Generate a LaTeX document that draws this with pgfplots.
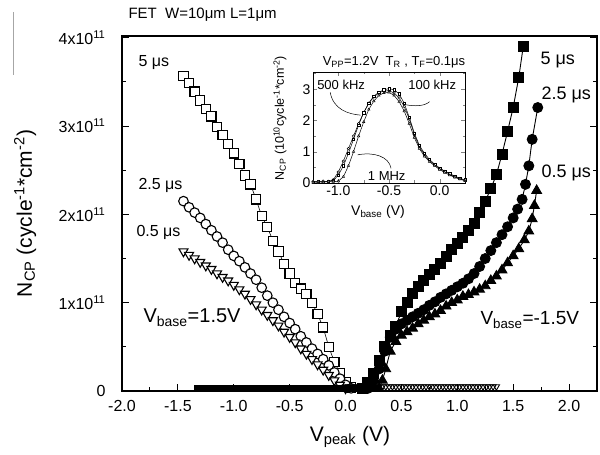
\documentclass[border=0pt]{standalone}
\usepackage{pgfplots}
\pgfplotsset{compat=1.18}
\usepackage{fontspec}
\setmainfont{Liberation Sans}
\setsansfont{Liberation Sans}
\newcommand{\fs}[1]{\fontsize{#1}{#1}\selectfont}

\begin{document}
\begin{tikzpicture}
\useasboundingbox (-122pt,-64pt) rectangle (478pt,391pt);

% main axis
\begin{axis}[
    at={(0pt,0pt)}, anchor=south west,
    width=475pt, height=355pt, scale only axis,
    xmin=-2, xmax=2.25, ymin=0, ymax=4.02,
    clip=false,
    axis line style={line width=1.2pt},
    xtick={-2,-1.5,...,2}, minor xtick={-1.75,-1.25,...,2},
    ytick={0,1,2,3,4}, minor ytick={0.5,1.5,2.5,3.5},
    yticklabels={0,{1x10\textsuperscript{11}},{2x10\textsuperscript{11}},{3x10\textsuperscript{11}},{4x10\textsuperscript{11}}},
    xtick pos=bottom,
    tick align=inside,
    major tick length=7pt, minor tick length=4pt,
    every tick/.style={line width=0.9pt, black},
    /pgf/number format/assume math mode=true,
    xticklabel style={/pgf/number format/fixed, /pgf/number format/fixed zerofill, /pgf/number format/precision=1, yshift=-6pt},
    yticklabel style={xshift=-13pt},
    tick label style={font=\fs{16}},
    xlabel={V\textsubscript{peak} (V)},
    ylabel={N\textsubscript{CP} (cycle\textsuperscript{-1}*cm\textsuperscript{-2})},
    every axis x label/.style={at={(axis description cs:0.48,-0.13)}, anchor=center, font=\fs{21}},
    every axis y label/.style={at={(axis description cs:-0.204,0.5)}, anchor=center, rotate=90, font=\fs{21}},
  ]

  % V_base = 1.5 V, 5 us
  \addplot[black, line width=0.6pt, mark=square*, mark size=4.6pt, mark options={fill=white, line width=1.1pt}] coordinates {
    (-1.45,3.57) (-1.40,3.49) (-1.35,3.39) (-1.30,3.29) (-1.25,3.19) (-1.20,3.11)
    (-1.15,2.99) (-1.10,2.90) (-1.05,2.80) (-1.00,2.69) (-0.95,2.57) (-0.90,2.44)
    (-0.85,2.34) (-0.80,2.17) (-0.75,1.98) (-0.70,1.86) (-0.65,1.70) (-0.60,1.58)
    (-0.55,1.44) (-0.50,1.33) (-0.45,1.22) (-0.40,1.16) (-0.35,1.10) (-0.30,1.00)
    (-0.25,0.87) (-0.20,0.72) (-0.15,0.50) (-0.10,0.33) (-0.05,0.20) (0.00,0.10) (0.05,0.04)};

  % V_base = 1.5 V, 2.5 us
  \addplot[black, line width=0.6pt, mark=*, mark size=4.8pt, mark options={fill=white, line width=1.1pt}] coordinates {
    (-1.45,2.15) (-1.40,2.08) (-1.35,2.02) (-1.30,1.96) (-1.25,1.89) (-1.20,1.82)
    (-1.15,1.75) (-1.10,1.68) (-1.05,1.60) (-1.00,1.53) (-0.95,1.47) (-0.90,1.40)
    (-0.85,1.33) (-0.80,1.26) (-0.75,1.17) (-0.70,1.08) (-0.65,1.00) (-0.60,0.92)
    (-0.55,0.84) (-0.50,0.77) (-0.45,0.70) (-0.40,0.62) (-0.35,0.55) (-0.30,0.48)
    (-0.25,0.42) (-0.20,0.36) (-0.15,0.29) (-0.10,0.21) (-0.05,0.14) (0.00,0.07) (0.05,0.03)};

  % V_base = 1.5 V, 0.5 us
  \addplot[black, line width=0.6pt, mark=triangle*, mark size=5.2pt, mark options={rotate=180, fill=white, line width=1.1pt}] coordinates {
    (-1.45,1.58) (-1.40,1.54) (-1.35,1.50) (-1.30,1.46) (-1.25,1.42) (-1.20,1.38)
    (-1.15,1.33) (-1.10,1.29) (-1.05,1.25) (-1.00,1.20) (-0.95,1.15) (-0.90,1.10)
    (-0.85,1.04) (-0.80,0.98) (-0.75,0.92) (-0.70,0.86) (-0.65,0.80) (-0.60,0.74)
    (-0.55,0.67) (-0.50,0.61) (-0.45,0.55) (-0.40,0.48) (-0.35,0.42) (-0.30,0.36)
    (-0.25,0.30) (-0.20,0.24) (-0.15,0.18) (-0.10,0.12) (-0.05,0.07) (0.00,0.03)};

  % V_base = 1.5 V, positive V_peak (zero)
  \addplot[only marks, black, mark=triangle, mark size=3.6pt, mark options={rotate=180, line width=0.9pt}] coordinates {
    (0.00,0.05) (0.03,0.05) (0.06,0.05) (0.09,0.05) (0.12,0.05) (0.15,0.05) (0.18,0.05)
    (0.21,0.05) (0.24,0.05) (0.27,0.05) (0.30,0.05) (0.33,0.05) (0.36,0.05) (0.39,0.05)
    (0.42,0.05) (0.45,0.05) (0.48,0.05) (0.51,0.05) (0.54,0.05) (0.57,0.05) (0.60,0.05)
    (0.63,0.05) (0.66,0.05) (0.69,0.05) (0.72,0.05) (0.75,0.05) (0.78,0.05) (0.81,0.05)
    (0.84,0.05) (0.87,0.05) (0.90,0.05) (0.93,0.05) (0.96,0.05) (0.99,0.05) (1.02,0.05)
    (1.05,0.05) (1.08,0.05) (1.11,0.05) (1.14,0.05) (1.17,0.05) (1.20,0.05) (1.23,0.05)
    (1.26,0.05) (1.29,0.05) (1.32,0.05) (1.35,0.05)};

  % V_base = -1.5 V, negative V_peak (zero)
  \addplot[only marks, black, mark=square*, mark size=3pt] coordinates {
    (-1.33,0.035) (-1.30,0.035) (-1.27,0.035) (-1.24,0.035) (-1.21,0.035) (-1.18,0.035)
    (-1.15,0.035) (-1.12,0.035) (-1.09,0.035) (-1.06,0.035) (-1.03,0.035) (-1.00,0.035)
    (-0.97,0.035) (-0.94,0.035) (-0.91,0.035) (-0.88,0.035) (-0.85,0.035) (-0.82,0.035)
    (-0.79,0.035) (-0.76,0.035) (-0.73,0.035) (-0.70,0.035) (-0.67,0.035) (-0.64,0.035)
    (-0.61,0.035) (-0.58,0.035) (-0.55,0.035) (-0.52,0.035) (-0.49,0.035) (-0.46,0.035)
    (-0.43,0.035) (-0.40,0.035) (-0.37,0.035) (-0.34,0.035) (-0.31,0.035) (-0.28,0.035)
    (-0.25,0.035) (-0.22,0.035) (-0.19,0.035) (-0.16,0.035) (-0.13,0.035) (-0.10,0.035)
    (-0.07,0.035) (-0.04,0.035) (-0.01,0.035) (0.02,0.035) (0.05,0.035) (0.08,0.035)
    (0.11,0.035) (0.14,0.035) (0.17,0.035) (0.20,0.035) (0.23,0.035) (0.26,0.035)};

  % V_base = -1.5 V, 5 us
  \addplot[black, line width=0.9pt, mark=square*, mark size=5pt] coordinates {
    (0.15,0.03) (0.20,0.10) (0.25,0.20) (0.30,0.35) (0.35,0.50) (0.40,0.63) (0.45,0.73)
    (0.50,0.90) (0.55,1.00) (0.60,1.10) (0.65,1.18) (0.70,1.25) (0.75,1.32) (0.80,1.38)
    (0.85,1.45) (0.90,1.52) (0.95,1.60) (1.00,1.67) (1.05,1.74) (1.10,1.82) (1.15,1.90)
    (1.20,2.02) (1.25,2.15) (1.30,2.29) (1.35,2.45) (1.40,2.68) (1.45,2.94) (1.50,3.21)
    (1.55,3.55) (1.59,3.90)};

  % V_base = -1.5 V, 2.5 us
  \addplot[black, line width=0.9pt, mark=*, mark size=5pt] coordinates {
    (0.20,0.03) (0.25,0.12) (0.30,0.25) (0.35,0.45) (0.40,0.61) (0.45,0.70) (0.50,0.76)
    (0.55,0.80) (0.60,0.84) (0.65,0.88) (0.70,0.92) (0.75,0.97) (0.80,1.01) (0.85,1.06)
    (0.90,1.10) (0.95,1.14) (1.00,1.18) (1.05,1.22) (1.10,1.27) (1.15,1.33) (1.20,1.41)
    (1.25,1.50) (1.30,1.59) (1.35,1.68) (1.40,1.77) (1.45,1.86) (1.50,1.96) (1.54,2.06)
    (1.58,2.17) (1.61,2.34) (1.64,2.55) (1.67,2.85) (1.72,3.21)};

  % V_base = -1.5 V, 0.5 us
  \addplot[black, line width=0.9pt, mark=triangle*, mark size=5.6pt] coordinates {
    (0.30,0.03) (0.33,0.12) (0.36,0.25) (0.40,0.45) (0.45,0.56) (0.50,0.63) (0.55,0.67)
    (0.60,0.71) (0.65,0.76) (0.70,0.80) (0.75,0.84) (0.80,0.87) (0.85,0.91) (0.90,0.96)
    (0.95,1.00) (1.00,1.03) (1.05,1.07) (1.10,1.09) (1.15,1.12) (1.20,1.15) (1.25,1.19)
    (1.30,1.25) (1.35,1.30) (1.40,1.37) (1.45,1.45) (1.50,1.53) (1.55,1.61) (1.60,1.71)
    (1.64,1.81) (1.67,1.95) (1.69,2.10) (1.71,2.27)};
\end{axis}

% labels in the main plot
\node[anchor=west, font=\fs{15}] at (3pt,376pt) {FET\ \ W=10μm L=1μm};
\node[anchor=west, font=\fs{16}] at (13pt,328pt) {5 μs};
\node[anchor=west, font=\fs{16}] at (13pt,206pt) {2.5 μs};
\node[anchor=west, font=\fs{16}] at (11pt,159pt) {0.5 μs};
\node[anchor=base west, font=\fs{20}] at (18pt,68pt) {V\textsubscript{base}=1.5V};
\node[anchor=west, font=\fs{18}] at (415pt,331pt) {5 μs};
\node[anchor=west, font=\fs{18}] at (416pt,296pt) {2.5 μs};
\node[anchor=west, font=\fs{18}] at (416pt,218pt) {0.5 μs};
\node[anchor=base west, font=\fs{19}] at (355pt,66pt) {V\textsubscript{base}=-1.5V};
\draw[gray!70, line width=1pt] (-108pt,379pt) -- (-108pt,316pt);

% inset
\begin{axis}[
    at={(191pt,208pt)}, anchor=south west,
    width=152pt, height=111pt, scale only axis,
    xmin=-1.25, xmax=0.25, ymin=0, ymax=3.55,
    clip=false,
    axis line style={line width=0.8pt},
    xtick={-1,-0.5,0}, minor xtick={-1.25,-0.75,-0.25,0.25},
    ytick={0,1,2,3}, minor ytick={0.5,1.5,2.5,3.5},
    tick align=inside,
    major tick length=4pt, minor tick length=2.5pt,
    /pgf/number format/assume math mode=true,
    xticklabel style={/pgf/number format/fixed, /pgf/number format/fixed zerofill, /pgf/number format/precision=1},
    tick label style={font=\fs{14}},
    xticklabel style={yshift=1pt},
    yticklabel style={xshift=1pt},
  ]
  \addplot[black, line width=0.5pt, mark=*, mark size=1.3pt, mark options={fill=white}] coordinates {
    (-1.25,0.05) (-1.20,0.03) (-1.15,0.06) (-1.10,0.04) (-1.05,0.10) (-1.00,0.35)
    (-0.95,0.70) (-0.90,1.10) (-0.85,1.50) (-0.80,1.90) (-0.75,2.25) (-0.70,2.55)
    (-0.65,2.75) (-0.60,2.88) (-0.55,2.95) (-0.50,2.95) (-0.45,2.88) (-0.40,2.72)
    (-0.35,2.45) (-0.30,2.05) (-0.25,1.55) (-0.20,1.15) (-0.15,0.90) (-0.10,0.72)
    (-0.05,0.58) (0.00,0.46) (0.05,0.37) (0.10,0.28) (0.15,0.20) (0.20,0.14) (0.25,0.08)};
  \addplot[black, line width=0.5pt, mark=square*, mark size=1.2pt, mark options={fill=white}] coordinates {
    (-1.25,0.03) (-1.20,0.05) (-1.15,0.02) (-1.10,0.06) (-1.05,0.08) (-1.00,0.25)
    (-0.95,0.55) (-0.90,0.95) (-0.85,1.40) (-0.80,1.85) (-0.75,2.25) (-0.70,2.55)
    (-0.65,2.78) (-0.60,2.90) (-0.55,2.98) (-0.50,3.02) (-0.45,2.98) (-0.40,2.85)
    (-0.35,2.55) (-0.30,2.10) (-0.25,1.60) (-0.20,1.20) (-0.15,0.95) (-0.10,0.75)
    (-0.05,0.60) (0.00,0.48) (0.05,0.38) (0.10,0.30) (0.15,0.22) (0.20,0.15) (0.25,0.10)};
  \addplot[black, line width=0.5pt, mark=triangle*, mark size=1.4pt, mark options={fill=white}] coordinates {
    (-1.25,0.02) (-1.20,0.04) (-1.15,0.03) (-1.10,0.05) (-1.05,0.04) (-1.00,0.06)
    (-0.95,0.20) (-0.90,0.55) (-0.85,1.00) (-0.80,1.50) (-0.75,1.95) (-0.70,2.35)
    (-0.65,2.62) (-0.60,2.80) (-0.55,2.88) (-0.50,2.90) (-0.45,2.80) (-0.40,2.60)
    (-0.35,2.30) (-0.30,1.90) (-0.25,1.45) (-0.20,1.10) (-0.15,0.85) (-0.10,0.68)
    (-0.05,0.55) (0.00,0.43) (0.05,0.33) (0.10,0.25) (0.15,0.18) (0.20,0.12) (0.25,0.07)};

  \node[anchor=west, font=\fs{13}, inner sep=0pt] at (axis cs:-1.21,3.13) {500 kHz};
  \node[anchor=west, font=\fs{13}, inner sep=0pt] at (axis cs:-0.31,3.13) {100 kHz};
  \node[anchor=west, font=\fs{13}, inner sep=0pt] at (axis cs:-0.71,0.22) {1 MHz};
  \draw[line width=0.5pt] (axis cs:-1.08,2.9) .. controls (axis cs:-1.05,2.35) and (axis cs:-0.9,2.2) .. (axis cs:-0.78,2.17);
  \draw[line width=0.5pt] (axis cs:-0.1,2.6) .. controls (axis cs:-0.15,2.45) and (axis cs:-0.25,2.45) .. (axis cs:-0.33,2.5);
  \draw[line width=0.5pt] (axis cs:-0.81,0.9) .. controls (axis cs:-0.65,1.0) and (axis cs:-0.5,0.85) .. (axis cs:-0.48,0.47);
\end{axis}

\node[font=\fs{13}] at (272pt,329pt) {V\textsubscript{PP}=1.2V\ \ T\textsubscript{R} , T\textsubscript{F}=0.1μs};
\node[font=\fs{14}] at (256pt,179pt) {V\textsubscript{base} (V)};
\node[font=\fs{12.5}, rotate=90] at (158pt,273pt) {N\textsubscript{CP} (10\textsuperscript{10}cycle\textsuperscript{-1}*cm\textsuperscript{-2})};
\end{tikzpicture}
\end{document}
